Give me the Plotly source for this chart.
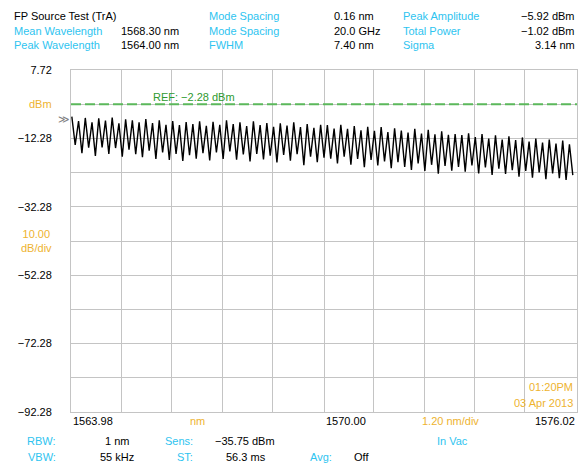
import plotly.graph_objects as go

# ---------------- data ----------------
peak_wl = [1564.00, 1564.16, 1564.32, 1564.48, 1564.64, 1564.80, 1564.96, 1565.12, 1565.28, 1565.44,
           1565.60, 1565.76, 1565.92, 1566.08, 1566.24, 1566.40, 1566.56, 1566.72, 1566.88, 1567.04,
           1567.20, 1567.36, 1567.52, 1567.68, 1567.84, 1568.00, 1568.16, 1568.32, 1568.48, 1568.64,
           1568.80, 1568.96, 1569.12, 1569.28, 1569.44, 1569.60, 1569.76, 1569.92, 1570.08, 1570.24,
           1570.40, 1570.56, 1570.72, 1570.88, 1571.04, 1571.20, 1571.36, 1571.52, 1571.68, 1571.84,
           1572.00, 1572.16, 1572.32, 1572.48, 1572.64, 1572.80, 1572.96, 1573.12, 1573.28, 1573.44,
           1573.60, 1573.76, 1573.92, 1574.08, 1574.24, 1574.40, 1574.56, 1574.72, 1574.88, 1575.04,
           1575.20, 1575.36, 1575.52, 1575.68, 1575.84]
peak_dbm = [-5.9, -7.2, -6.3, -7.6, -6.4, -7.1, -6.2, -7.9, -6.7, -7.0, -7.6, -6.6, -7.8, -7.0, -8.3,
            -7.2, -8.4, -7.5, -8.1,
            -7.3, -8.6, -7.4, -8.3, -7.0, -8.1, -7.6, -8.7, -7.3, -8.4, -7.8, -8.9, -7.9, -8.5, -7.6,
            -9.0, -8.1, -9.2, -8.3,
            -8.4, -9.4, -8.3, -9.5, -8.7, -9.9, -8.9, -10.1, -9.0, -10.4, -9.3, -10.0, -10.6, -9.5, -10.9,
            -9.8, -11.1, -10.2, -11.2,
            -11.0, -11.3, -10.8, -11.9, -11.0, -12.3, -11.4, -12.6, -11.7, -12.8, -12.0, -13.2, -12.3,
            -13.5, -12.6, -13.8, -12.9, -14.0, -13.1]
trough_wl = [1564.08, 1564.24, 1564.40, 1564.56, 1564.72, 1564.88, 1565.04, 1565.20, 1565.36, 1565.52,
             1565.68, 1565.84, 1566.00, 1566.16, 1566.32, 1566.48, 1566.64, 1566.80, 1566.96, 1567.12,
             1567.28, 1567.44, 1567.60, 1567.76, 1567.92, 1568.08, 1568.24, 1568.40, 1568.56, 1568.72,
             1568.88, 1569.04, 1569.20, 1569.36, 1569.52, 1569.68, 1569.84, 1570.00, 1570.16, 1570.32,
             1570.48, 1570.64, 1570.80, 1570.96, 1571.12, 1571.28, 1571.44, 1571.60, 1571.76, 1571.92,
             1572.08, 1572.24, 1572.40, 1572.56, 1572.72, 1572.88, 1573.04, 1573.20, 1573.36, 1573.52,
             1573.68, 1573.84, 1574.00, 1574.16, 1574.32, 1574.48, 1574.64, 1574.80, 1574.96, 1575.12,
             1575.28, 1575.44, 1575.60, 1575.76, 1575.92]
trough_dbm = [-14.2, -16.6, -15.0, -17.4, -14.9, -16.8, -15.1, -17.6, -15.6, -16.9, -17.8, -15.9, -18.3,
              -16.4, -18.6, -16.8, -18.9, -17.2, -18.2,
              -16.6, -18.7, -16.4, -18.3, -16.1, -18.5, -17.0, -19.0, -16.8, -18.4, -17.3, -19.3, -17.1,
              -18.8, -16.9, -20.1, -17.6, -19.2, -17.9,
              -18.2, -19.6, -17.6, -20.0, -18.3, -20.7, -18.6, -20.2, -19.0, -21.0, -19.2, -20.6, -21.5,
              -19.6, -21.8, -20.0, -22.6, -20.3, -21.7,
              -20.6, -22.0, -20.2, -22.5, -20.8, -23.0, -21.1, -22.7, -21.6, -23.5, -21.8, -23.8, -22.2,
              -24.2, -22.5, -23.9, -24.4, -23.0]

y_grid = [7.72, -2.28, -12.28, -22.28, -32.28, -42.28, -52.28, -62.28, -72.28, -82.28, -92.28]
y_labels = ["7.72", "", "−12.28", "", "−32.28", "", "−52.28", "", "−72.28", "", "−92.28"]
x_grid = [1563.98, 1565.18, 1566.38, 1567.58, 1568.78, 1570.00, 1571.18, 1572.38, 1573.58, 1574.78, 1576.02]
x_labels = ["1563.98", "1570.00", "1576.02"]
x_label_pos = [1563.98, 1570.00, 1576.02]
ref_level = -2.28

header_left = [("FP Source Test (TrA)", "", ""),
               ("Mean Wavelength", "1568.30 nm", ""),
               ("Peak Wavelength", "1564.00 nm", "")]
header_mid = [("Mode Spacing", "0.16 nm"), ("Mode Spacing", "20.0 GHz"), ("FWHM", "7.40 nm")]
header_right = [("Peak Amplitude", "−5.92 dBm"), ("Total Power", "−1.02 dBm"), ("Sigma", "3.14 nm")]

# interleave peaks and troughs into one trace
xs, ys = [], []
for pw, pv, tw, tv in zip(peak_wl, peak_dbm, trough_wl, trough_dbm):
    xs += [pw, tw]
    ys += [pv, tv]

# ---------------- style ----------------
W, H = 579, 463
L, R, T, B = 71, 2, 70, 51
CYAN = "#2ec4f0"
ORANGE = "#eeb32f"
GREEN = "#5bb85b"
GRID = "#c4c4c4"
FONT = "Liberation Sans"

fig = go.Figure()
fig.add_trace(go.Scatter(x=xs, y=ys, mode="lines",
                         line=dict(color="#000000", width=1.4), hoverinfo="skip",
                         showlegend=False))

fig.update_layout(
    width=W, height=H,
    margin=dict(l=L, r=R, t=T, b=B, pad=0),
    paper_bgcolor="white", plot_bgcolor="white",
    font=dict(family=FONT, size=11, color="black"),
    xaxis=dict(range=[x_grid[0], x_grid[-1]], tickvals=x_grid, showticklabels=False,
               showgrid=True, gridcolor=GRID, gridwidth=1, zeroline=False,
               showline=True, linecolor=GRID, linewidth=1, mirror=True, ticks=""),
    yaxis=dict(range=[y_grid[-1], y_grid[0]], tickvals=y_grid, ticktext=y_labels,
               showgrid=True, gridcolor=GRID, gridwidth=1, zeroline=False,
               showline=True, linecolor=GRID, linewidth=1, mirror=True, ticks="",
               ticklabelstandoff=16, tickfont=dict(family=FONT, size=11, color="black")),
)

# reference line
fig.add_shape(type="line", xref="paper", yref="y", x0=0, x1=1, y0=ref_level, y1=ref_level,
              line=dict(color=GREEN, width=2, dash="10px,4px"))

ann = []
def text(x, y, s, color="black", xanchor="left", xref="paper", yref="paper", size=11):
    ann.append(dict(x=x, y=y, xref=xref, yref=yref, text=s, showarrow=False,
                    xanchor=xanchor, yanchor="middle",
                    font=dict(family=FONT, size=size, color=color)))

def px_x(p):
    return (p - L) / (W - L - R)

def px_y(p):
    return 1 - (p - T) / (H - T - B)

# header
rows_y = [16, 30.5, 45]
for (a, b, _), yy in zip(header_left, rows_y):
    text(px_x(12), px_y(yy), a, color="black" if b == "" else CYAN)
    if b:
        text(px_x(119), px_y(yy), b)
for (a, b), yy in zip(header_mid, rows_y):
    text(px_x(207), px_y(yy), a, color=CYAN)
    text(px_x(332), px_y(yy), b)
for (a, b), yy in zip(header_right, rows_y):
    text(px_x(401), px_y(yy), a, color=CYAN)
    text(px_x(577), px_y(yy), b, xanchor="right")

# ref label
text(px_x(151), px_y(97), "REF: −2.28 dBm", color="#2f9a2f")
# y unit labels
text(px_x(54), ref_level, "dBm", color=ORANGE, xanchor="right", yref="y")
text(px_x(54), -42.28, "10.00<br>dB/div", color=ORANGE, xanchor="right", yref="y")
# marker
text(px_x(56), px_y(119), "≫", color="#808080")

# x labels
for lab, pos, anc in zip(x_labels, x_label_pos, ["left", "left", "right"]):
    text(pos, px_y(421), lab, xanchor=anc, xref="x")
text(px_x(197), px_y(421), "nm", color=ORANGE, xanchor="center")
text(px_x(450), px_y(421), "1.20 nm/div", color=ORANGE, xanchor="center")

# time stamp
text(px_x(575), px_y(387), "01:20PM", color=ORANGE, xanchor="right")
text(px_x(575), px_y(403), "03 Apr 2013", color=ORANGE, xanchor="right")

# footer
text(px_x(58), px_y(441), "RBW:", color=CYAN, xanchor="right")
text(px_x(117), px_y(441), "1 nm", xanchor="center")
text(px_x(195), px_y(441), "Sens:", color=CYAN, xanchor="right")
text(px_x(245), px_y(441), "−35.75 dBm", xanchor="center")
text(px_x(452), px_y(441), "In Vac", color=CYAN, xanchor="center")
text(px_x(58), px_y(457), "VBW:", color=CYAN, xanchor="right")
text(px_x(117), px_y(457), "55 kHz", xanchor="center")
text(px_x(195), px_y(457), "ST:", color=CYAN, xanchor="right")
text(px_x(246), px_y(457), "56.3 ms", xanchor="center")
text(px_x(334), px_y(457), "Avg:", color=CYAN, xanchor="right")
text(px_x(361), px_y(457), "Off", xanchor="center")

fig.update_layout(annotations=ann)
fig.write_html("out.html")
